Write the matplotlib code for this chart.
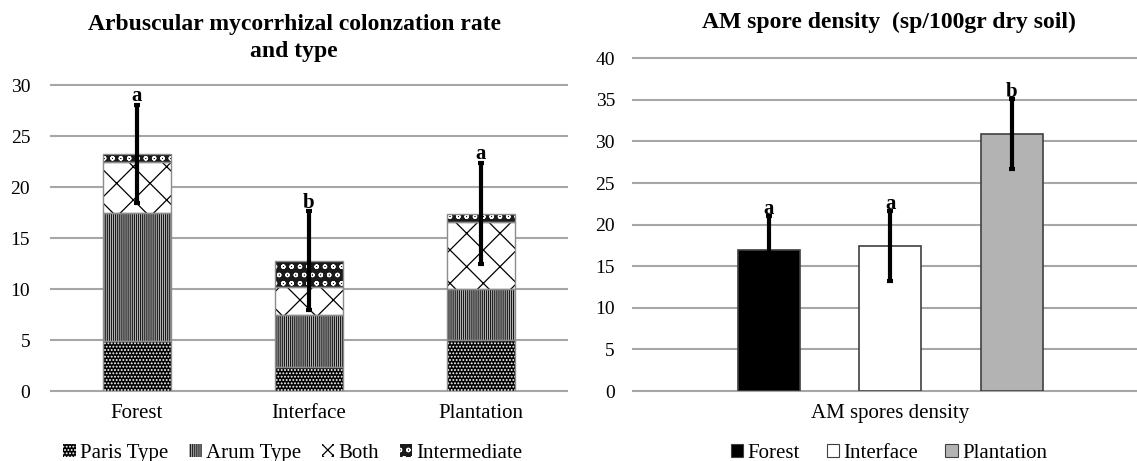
import numpy as np
import matplotlib
matplotlib.use('Agg')
import matplotlib.pyplot as plt
from matplotlib.patches import Patch

plt.rcParams['font.family'] = ['Liberation Serif', 'DejaVu Serif']
plt.rcParams['hatch.linewidth'] = 0.9

# left chart: colonization rate by type
sites = ['Forest', 'Interface', 'Plantation']
paris = [4.9, 2.35, 5.0]
arum = [12.55, 5.1, 5.0]
both = [5.05, 2.7, 6.6]
intermediate = [0.75, 2.6, 0.8]
col_err = [4.8, 4.85, 4.95]
col_letters = ['a', 'b', 'a']

# right chart: spore density
spore_density = [17.0, 17.45, 30.9]
spore_err = [4.05, 4.2, 4.2]
spore_letters = ['a', 'a', 'b']

W, H = 1137, 461
fig = plt.figure(figsize=(W / 100, H / 100), dpi=100)

grid_col = '#a6a6a6'


def style_axes(ax, ymax, pad):
    ax.set_ylim(0, ymax)
    ax.set_yticks(np.arange(0, ymax + 1, 5))
    for s in ax.spines.values():
        s.set_visible(False)
    ax.yaxis.grid(True, color=grid_col, linewidth=1.5, clip_on=False)
    ax.set_axisbelow(True)
    ax.tick_params(axis='y', length=0, pad=pad, labelsize=14)
    ax.tick_params(axis='x', length=0, pad=9, labelsize=15)


# ---- left
ax1 = fig.add_axes([51 / W, 70 / H, 516 / W, 306 / H])
x = np.arange(len(sites))
bw = 0.39
layers = [
    ('Paris Type', paris, 'black', '.....', 'white'),
    ('Arum Type', arum, '#d0d0d0', '||||||||', '#1a1a1a'),
    ('Both', both, 'white', 'x', 'black'),
    ('Intermediate', intermediate, '#1a1a1a', 'oo', 'white'),
]
bottom = np.zeros(len(sites))
handles = []
for name, vals, face, hatch, hc in layers:
    ax1.bar(x, vals, bw, bottom=bottom, color=face, hatch=hatch,
            edgecolor=hc, linewidth=0, zorder=2)
    ax1.bar(x, vals, bw, bottom=bottom, fill=False, edgecolor='#8c8c8c',
            linewidth=1, zorder=3)
    bottom = bottom + np.array(vals)
    lh = 'xxx' if hatch == 'x' else hatch
    handles.append(Patch(facecolor=face, hatch=lh, edgecolor=hc,
                         linewidth=0, label=name))
totals = bottom
ax1.errorbar(x, totals, yerr=col_err, fmt='none', ecolor='black',
             elinewidth=3, capsize=2.5, capthick=3, zorder=4)
for xi, t, e, lt in zip(x, totals, col_err, col_letters):
    ax1.text(xi, t + e - 0.1, lt, ha='center', va='bottom', fontsize=15,
             fontweight='bold', zorder=5)
ax1.set_xlim(-0.5, 2.5)
ax1.set_xticks(x)
ax1.set_xticklabels(sites)
style_axes(ax1, 30, 15)

fig.text(294 / W, 1 - 38 / H, 'Arbuscular mycorrhizal colonzation rate\nand type',
         ha='center', va='center', fontsize=17, fontweight='bold',
         linespacing=1.35)
fig.legend(handles=handles, loc='center', bbox_to_anchor=(293 / W, 8 / H),
           ncol=4, frameon=False, fontsize=15, handlelength=0.6,
           handleheight=0.6, handletextpad=0.2, columnspacing=1.0)

# ---- right
ax2 = fig.add_axes([633 / W, 70 / H, 504 / W, (391 - 58.3) / H])
pos = np.array([-1, 0, 1])
faces = ['black', 'white', '#b3b3b3']
ax2.bar(pos, spore_density, 0.51, color=faces, edgecolor='#404040',
        linewidth=1.2, zorder=2)
ax2.errorbar(pos, spore_density, yerr=spore_err, fmt='none', ecolor='black',
             elinewidth=3, capsize=2.5, capthick=3, zorder=4)
for p, v, e, lt in zip(pos, spore_density, spore_err, spore_letters):
    ax2.text(p, v + e - 0.4, lt, ha='center', va='bottom', fontsize=15,
             fontweight='bold', zorder=5)
ax2.set_xlim(-2.12, 2.03)
ax2.set_xticks([0])
ax2.set_xticklabels(['AM spores density'])
style_axes(ax2, 40, 13)

fig.text(889 / W, 1 - 22 / H, 'AM spore density  (sp/100gr dry soil)',
         ha='center', va='center', fontsize=17, fontweight='bold')
h2 = [Patch(facecolor=f, edgecolor='#404040', linewidth=0.8, label=s)
      for f, s in zip(faces, sites)]
fig.legend(handles=h2, loc='center', bbox_to_anchor=(889 / W, 8 / H),
           ncol=3, frameon=False, fontsize=15, handlelength=0.6,
           handleheight=0.6, handletextpad=0.2, columnspacing=1.3)

fig.savefig('out.png', dpi=100)
